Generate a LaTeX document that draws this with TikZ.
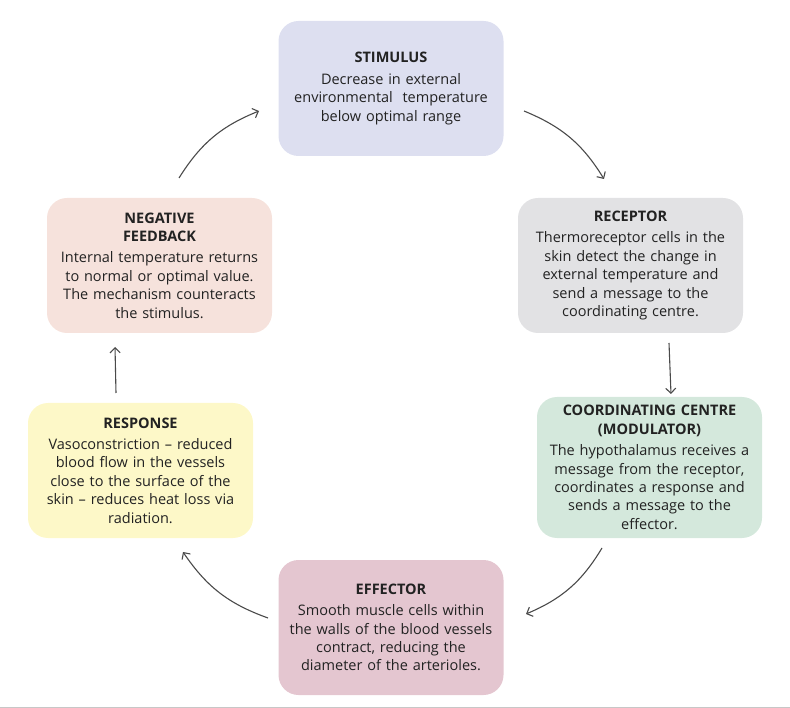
\documentclass[tikz,border=0pt]{standalone}
\usepackage{fontspec}
\setmainfont{Open Sans}
\usetikzlibrary{arrows.meta}
\definecolor{cstim}{HTML}{DDDFF0}
\definecolor{crec}{HTML}{E2E2E4}
\definecolor{ccoord}{HTML}{D4E8DC}
\definecolor{ceff}{HTML}{E4C6D0}
\definecolor{cresp}{HTML}{FDF8C8}
\definecolor{cneg}{HTML}{F6E2DC}
\definecolor{ctext}{HTML}{222222}
\definecolor{carrow}{HTML}{4A4A4A}
\begin{document}
\begin{tikzpicture}[x=1pt,y=1pt,
  box/.style={rounded corners=20pt, minimum width=225pt, minimum height=135pt,
    text width=224pt, align=center, inner sep=0pt, text=ctext,
    font=\fontsize{14.5}{18.4}\selectfont},
  arr/.style={draw=carrow, line width=1.1pt, -{Straight Barb[length=5pt,width=10pt]}}]
\useasboundingbox (0,0) rectangle (790,-708);
\draw[draw=black!22, line width=1.2pt] (0,-707.4) -- (790,-707.4);

\node[box, fill=cstim] (stim) at (391,-88.5)
  {\textbf{STIMULUS}\\[3pt]Decrease in external\\environmental\ \ temperature\\below optimal range};
\node[box, fill=crec] (rec) at (630.5,-265.5)
  {\textbf{RECEPTOR}\\[3pt]Thermoreceptor cells in the\\skin detect the change in\\external temperature and\\send a message to the\\coordinating centre.};
\node[box, fill=ccoord, minimum height=141pt] (coord) at (649.5,-467.5)
  {\textbf{COORDINATING CENTRE}\\\textbf{(MODULATOR)}\\[3pt]The hypothalamus receives a\\message from the receptor,\\coordinates a response and\\sends a message to the\\effector.};
\node[box, fill=ceff] (eff) at (391,-627.5)
  {\textbf{EFFECTOR}\\[3pt]Smooth muscle cells within\\the walls of the blood vessels\\contract, reducing the\\diameter of the arterioles.};
\node[box, fill=cresp] (resp) at (140.5,-470.5)
  {\textbf{RESPONSE}\\[3pt]Vasoconstriction -- reduced\\blood flow in the vessels\\close to the surface of the\\skin -- reduces heat loss via\\radiation.};
\node[box, fill=cneg] (neg) at (159.5,-265.5)
  {\textbf{NEGATIVE}\\\textbf{FEEDBACK}\\[3pt]Internal temperature returns\\to normal or optimal value.\\The mechanism counteracts\\the stimulus.};

% arrow end points
\coordinate (a1s) at (179,-178); \coordinate (a1e) at (259,-111);
\coordinate (a2s) at (524,-111); \coordinate (a2e) at (604,-179);
\coordinate (a3s) at (669,-343); \coordinate (a3e) at (671,-394);
\coordinate (a4s) at (602,-548); \coordinate (a4e) at (526,-614);
\coordinate (a5s) at (268,-618); \coordinate (a5e) at (183,-552);
\coordinate (a6s) at (116,-393); \coordinate (a6e) at (115,-347);

\draw[arr] (a1s) to[bend left=18] (a1e);
\draw[arr] (a2s) to[bend left=18] (a2e);
\draw[arr] (a3s) to (a3e);
\draw[arr] (a4s) to[bend left=18] (a4e);
\draw[arr] (a5s) to[bend left=18] (a5e);
\draw[arr] (a6s) to (a6e);
\end{tikzpicture}
\end{document}
